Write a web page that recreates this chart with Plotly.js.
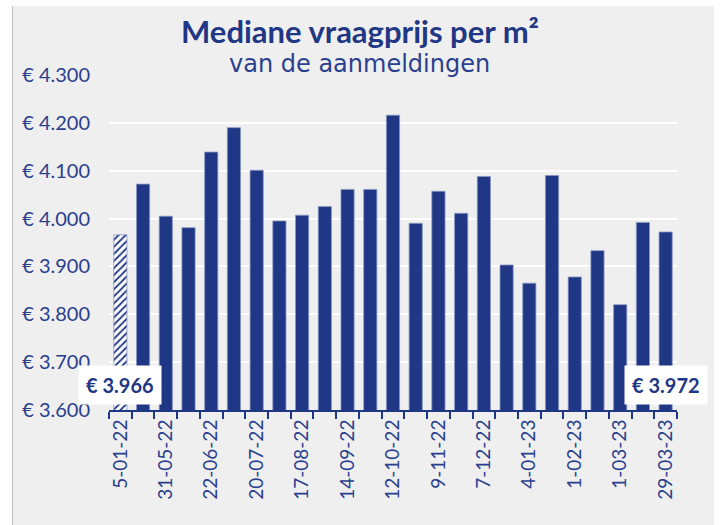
<!DOCTYPE html>
<html>
<head>
<meta charset="utf-8">
<script src="https://cdn.plot.ly/plotly-3.0.1.min.js"></script>
<style>
  html, body { margin: 0; padding: 0; background: #ffffff; width: 721px; height: 525px; overflow: hidden; }
  #wrap { position: absolute; left: 12px; top: 6px; width: 701px; height: 519px; background: #EFEFEF; border-left: 1px solid #BDBDBD; }
  #chart { position: absolute; left: 0; top: 0; width: 701px; height: 519px; }
</style>
</head>
<body>
<div id="wrap"><div id="chart"></div></div>
<script>
// ---- data ----
const tickLabels = ['5-01-22', '31-05-22', '22-06-22', '20-07-22', '17-08-22', '14-09-22', '12-10-22',
                    '9-11-22', '7-12-22', '4-01-23', '1-02-23', '1-03-23', '29-03-23'];
const values = [3966, 4072, 4005, 3981, 4139, 4190, 4101, 3995, 4007, 4025, 4061, 4061, 4216,
                3990, 4057, 4011, 4088, 3903, 3865, 4090, 3878, 3933, 3820, 3992, 3972];
const yTicks = [3600, 3700, 3800, 3900, 4000, 4100, 4200, 4300];
const titleText = 'Mediane vraagprijs per m²';
const subtitleText = 'van de aanmeldingen';

// ---- derived ----
const navy = '#1F3784';
const textNavy = '#2A3F8E';
const xs = values.map((v, i) => i);
const tickPos = tickLabels.map((t, i) => i * 2);
const patternShapes = values.map((v, i) => i === 0 ? '/' : '');
const fmt = v => '€ ' + String(v).replace(/\B(?=(\d{3})+(?!\d))/g, '.');
const last = values.length - 1;
const font = 'Lato, "Open Sans", sans-serif';

const trace = {
  type: 'bar',
  x: xs,
  y: values,
  marker: {
    color: navy,
    line: { color: '#8A97C4', width: 0.8 },
    pattern: { shape: patternShapes, fgcolor: navy, bgcolor: '#FFFFFF', size: 5, solidity: 0.35 }
  },
  hoverinfo: 'skip'
};

const layout = {
  width: 701,
  height: 519,
  paper_bgcolor: '#EFEFEF',
  plot_bgcolor: '#EFEFEF',
  margin: { l: 96, r: 37, t: 69, b: 115 },
  bargap: 0.42,
  showlegend: false,
  separators: ',.',
  font: { family: font, color: textNavy },
  title: {
    text: '<b>' + titleText + '</b>',
    xref: 'container', x: 347 / 701, xanchor: 'center',
    yref: 'container', y: 1 - 26 / 519, yanchor: 'middle',
    font: { family: font, size: 31, color: navy }
  },
  xaxis: {
    type: 'linear',
    range: [-0.5, values.length - 0.5],
    tickvals: tickPos,
    ticktext: tickLabels,
    tickangle: -90,
    ticks: '',
    showgrid: false,
    zeroline: false,
    showline: true,
    linecolor: navy,
    linewidth: 2,
    tickfont: { family: font, size: 19, color: textNavy },
    minor: { ticks: 'outside', tick0: -0.5, dtick: 1, ticklen: 7, tickwidth: 2, tickcolor: navy, showgrid: false }
  },
  yaxis: {
    range: [3600, 4300],
    tickvals: yTicks,
    ticktext: yTicks.map(fmt),
    showgrid: true,
    gridcolor: '#FFFFFF',
    gridwidth: 2,
    zeroline: false,
    showline: false,
    ticks: '',
    ticklabelstandoff: 18,
    tickfont: { family: font, size: 20, color: textNavy }
  },
  annotations: [
    {
      text: subtitleText,
      xref: 'paper', x: 0.441, xanchor: 'center',
      yref: 'paper', y: 1 + 11 / 335, yanchor: 'middle',
      showarrow: false,
      font: { family: '"DejaVu Sans", sans-serif', size: 24, color: textNavy }
    },
    {
      text: '<b>' + fmt(values[0]) + '</b>',
      x: 0, y: 3652, xref: 'x', yref: 'y',
      showarrow: false,
      bgcolor: '#FFFFFF',
      borderpad: 7,
      font: { family: font, size: 20, color: navy }
    },
    {
      text: '<b>' + fmt(values[last]) + '</b>',
      x: last, y: 3652, xref: 'x', yref: 'y',
      showarrow: false,
      bgcolor: '#FFFFFF',
      borderpad: 7,
      font: { family: font, size: 20, color: navy }
    }
  ]
};

Plotly.newPlot('chart', [trace], layout, { displayModeBar: false, staticPlot: true });
</script>
</body>
</html>
